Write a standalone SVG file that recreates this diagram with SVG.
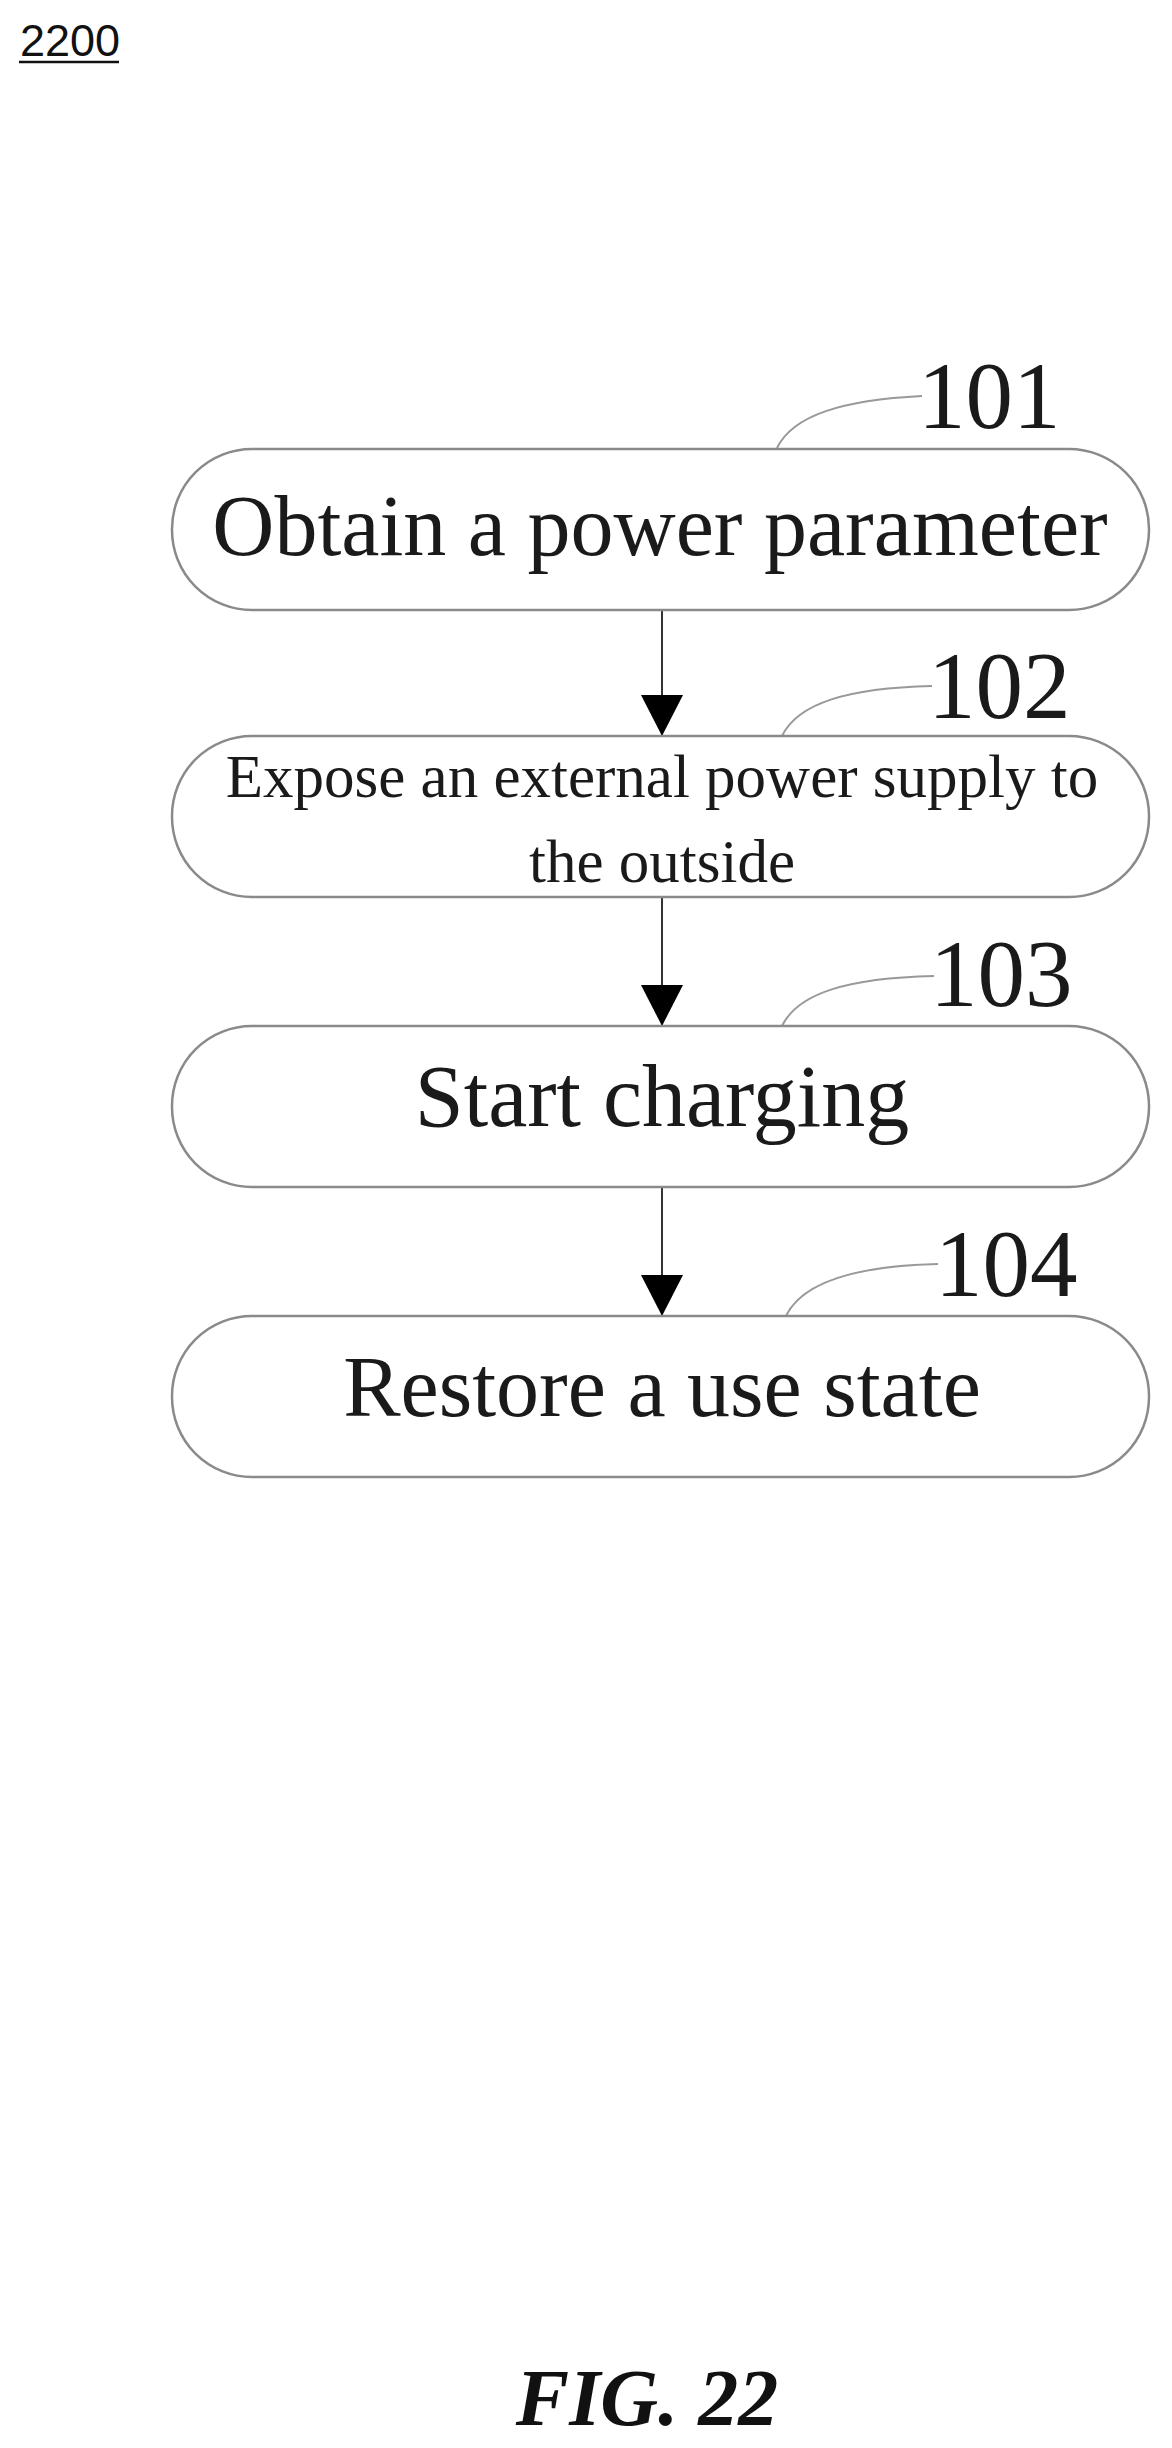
<svg xmlns="http://www.w3.org/2000/svg" width="1172" height="2448" viewBox="0 0 1172 2448">
<style>
.box{fill:#fff;stroke:#8a8a8a;stroke-width:2.5}
.t{font-family:"Liberation Serif",serif;fill:#1a1a1a;text-anchor:middle}
.lbl{font-family:"Liberation Serif",serif;fill:#1a1a1a;font-size:95px}
.lead{fill:none;stroke:#999;stroke-width:2}
.arr{stroke:#333;stroke-width:2}
</style>
<defs><marker id="ah" markerWidth="41" markerHeight="42" refX="41" refY="21" orient="auto" markerUnits="userSpaceOnUse" viewBox="0 0 41 42"><path d="M0,0 L41,21 L0,42 Z" fill="#000"/></marker></defs>
<rect width="1172" height="2448" fill="#fff"/>
<text x="20" y="56" font-family="Liberation Sans,sans-serif" font-size="45" fill="#111">2200</text>
<line x1="19" y1="62" x2="119" y2="62" stroke="#111" stroke-width="2.5"/>
<g id="connectors">
<line class="arr" x1="662" y1="610" x2="662" y2="736" marker-end="url(#ah)"/>
<line class="arr" x1="662" y1="897" x2="662" y2="1026" marker-end="url(#ah)"/>
<line class="arr" x1="662" y1="1187" x2="662" y2="1316" marker-end="url(#ah)"/>
<path class="lead" d="M777,448 C793,415 843,400 922,396"/>
<path class="lead" d="M782,736 C798,703 848,688 932,686"/>
<path class="lead" d="M782,1026 C798,993 848,978 934,976"/>
<path class="lead" d="M786,1316 C802,1283 852,1266 938,1264"/>
</g>
<g id="n101"><rect class="box" x="172" y="449" width="977" height="161" rx="80"/><text class="t" x="660" y="555" font-size="86">Obtain a power parameter</text><text class="lbl" x="918" y="428">101</text></g>
<g id="n102"><rect class="box" x="172" y="736" width="977" height="161" rx="80"/><text class="t" x="662" y="797" font-size="61">Expose an external power supply to</text><text class="t" x="662" y="882" font-size="61">the outside</text><text class="lbl" x="928" y="718">102</text></g>
<g id="n103"><rect class="box" x="172" y="1026" width="977" height="161" rx="80"/><text class="t" x="662" y="1126" font-size="88">Start charging</text><text class="lbl" x="930" y="1006">103</text></g>
<g id="n104"><rect class="box" x="172" y="1316" width="977" height="161" rx="80"/><text class="t" x="662" y="1416" font-size="86">Restore a use state</text><text class="lbl" x="935" y="1296">104</text></g>
<text x="647" y="2425" text-anchor="middle" font-family="Liberation Serif,serif" font-style="italic" font-weight="bold" font-size="80" fill="#111">FIG. 22</text>
</svg>
